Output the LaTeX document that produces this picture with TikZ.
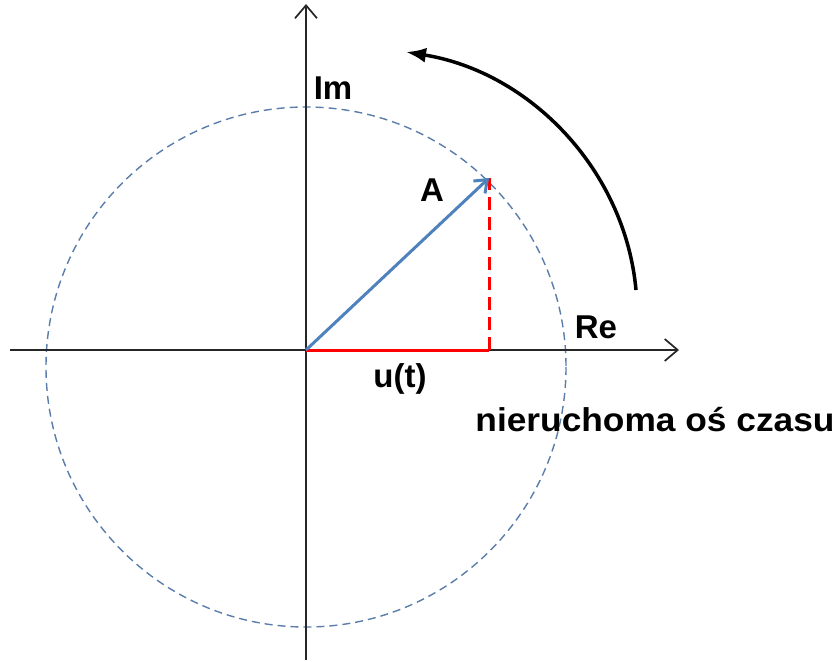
\documentclass[tikz,border=0pt]{standalone}
\usepackage{fontspec}
\setmainfont{Liberation Sans}
\usetikzlibrary{arrows.meta}
\definecolor{phasor}{HTML}{4F81BD}
\definecolor{circ}{HTML}{5A7DAA}
\begin{document}
\begin{tikzpicture}[x=1pt,y=-1pt,
  axis/.style={line width=1.7pt,black!85,-{Straight Barb[length=13pt,width=22pt,line width=1.7pt]}},
  lbl/.style={font=\fontsize{33}{36}\selectfont\bfseries,inner sep=0pt},
  ring/.style={circ,line width=1.4pt,dash pattern=on 8pt off 5pt},
  vec/.style={phasor,line width=3pt,-{Straight Barb[length=11pt,width=17pt,line width=3pt]}},
  proj/.style={red,line width=3pt},
  rot/.style={black,line width=3.5pt,-{Latex[length=20pt,width=15pt]}}]
\useasboundingbox (0,0) rectangle (837,661);
\coordinate (O) at (306,350);
\coordinate (C) at (306,367);
\coordinate (P) at (489,178);
\coordinate (F) at (489,350);
\coordinate (ybot) at (306,660);
\coordinate (ytop) at (306,4);
\coordinate (xl) at (10,350);
\coordinate (xr) at (679,350);
\coordinate (rs) at (636,290);
\coordinate (re) at (406,52);
% circle
\draw[ring] (C) circle[radius=260];
% axes
\draw[axis] (ybot) -- (ytop);
\draw[axis] (xl) -- (xr);
% projections
\draw[proj] (O) -- (F);
\draw[proj,dash pattern=on 13pt off 7pt] (F) -- (P);
% phasor
\draw[vec] (O) -- (P);
% rotation arc
\draw[rot] (rs) .. controls (625,170) and (530,72) .. (re);
% labels
\node[lbl] (im) at (333,88) {Im};
\node[lbl] (a) at (432,190) {A};
\node[lbl] (reL) at (596,327) {Re};
\node[lbl] (u) at (400,379) {u(t)};
\node[lbl,xscale=1.07] (ax) at (655,420) {nieruchoma oś czasu};
\end{tikzpicture}
\end{document}
